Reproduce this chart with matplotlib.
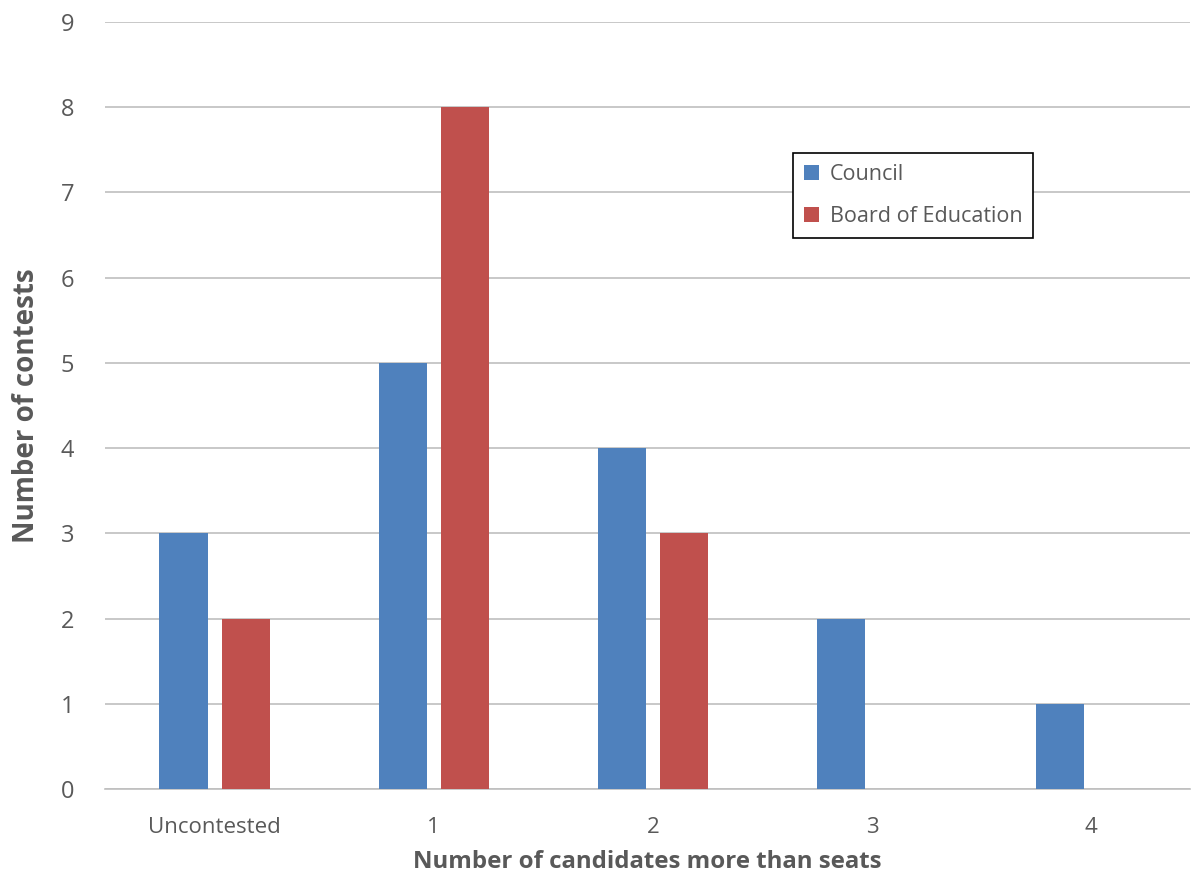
import matplotlib
matplotlib.use("Agg")
import matplotlib.pyplot as plt
import numpy as np

categories = ["Uncontested", "1", "2", "3", "4"]
council = [3, 5, 4, 2, 1]
board = [2, 8, 3, 0, 0]
series_names = ["Council", "Board of Education"]

plt.rcParams['font.family'] = ['Open Sans', 'DejaVu Sans']
txt = "#595959"

fig = plt.figure(figsize=(11.91, 8.74), dpi=100)
ax = fig.add_axes([105/1191, 1-789/874, (1190-105)/1191, (789-22)/874])

x = np.arange(len(categories))
w = 0.22
ax.bar(x - 0.142, council, w, color="#4F81BD", label=series_names[0], zorder=3)
ax.bar(x + 0.142, board, w, color="#C0504D", label=series_names[1], zorder=3)

ax.set_xlim(-0.5, 4.45)
ax.set_ylim(0, 9)
ax.set_yticks(range(10))
ax.yaxis.grid(True, color="#BFBFBF", linewidth=1.2, zorder=0)
ax.set_axisbelow(True)
for s in ["top", "right", "left"]:
    ax.spines[s].set_visible(False)
ax.spines["bottom"].set_color("#BFBFBF")
ax.spines["bottom"].set_linewidth(1.2)
ax.tick_params(axis="both", length=0)
ax.tick_params(axis="y", labelsize=17, colors=txt, pad=22)
ax.tick_params(axis="x", labelsize=16, colors=txt, pad=20)
ax.set_xticks(x)
ax.set_xticklabels(categories)

ax.set_ylabel("Number of contests", fontsize=20, fontweight="bold", color=txt, labelpad=14)
ax.set_xlabel("Number of candidates more than seats", fontsize=17.3, fontweight="bold", color=txt, labelpad=9)

leg = ax.legend(loc="upper left", bbox_to_anchor=(793/1191, 1-153/874), bbox_transform=fig.transFigure,
                fancybox=False, edgecolor="black", fontsize=15.5, handlelength=0.7, handleheight=0.7,
                handletextpad=0.5, labelspacing=1.0, borderpad=0.5, borderaxespad=0, framealpha=1)
leg.get_frame().set_linewidth(1.2)
for t in leg.get_texts():
    t.set_color(txt)

fig.savefig("out.png", dpi=100)
